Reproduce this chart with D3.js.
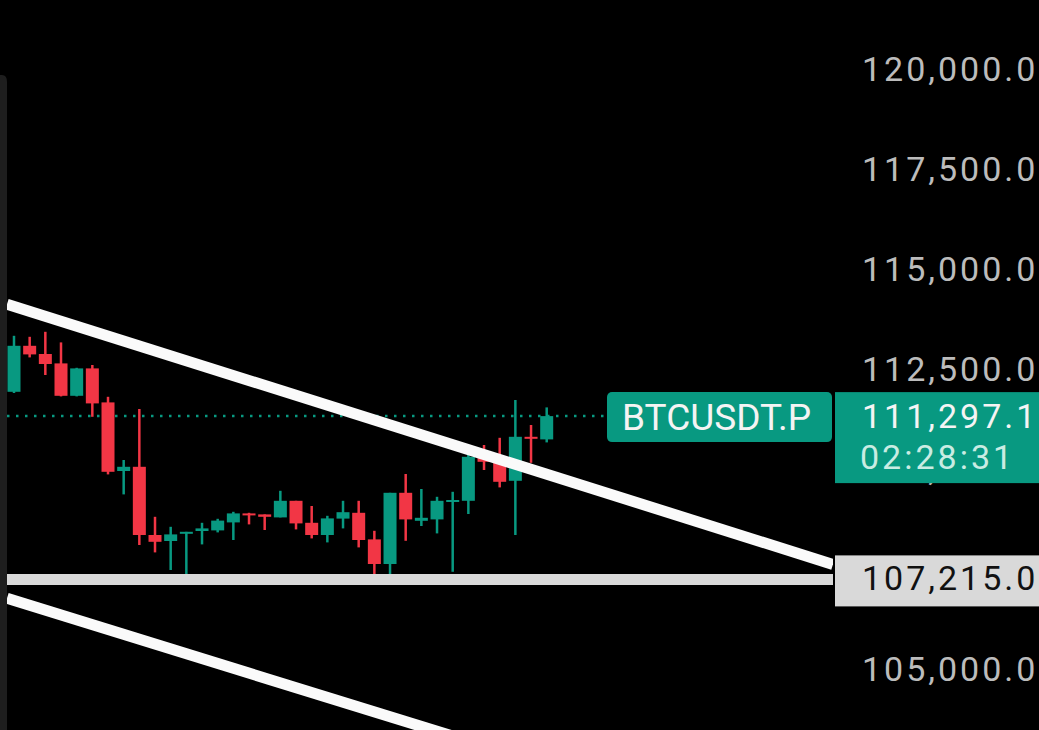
<!DOCTYPE html>
<html><head><meta charset="utf-8">
<script src="https://cdn.jsdelivr.net/npm/d3@7"></script>
<style>html,body{margin:0;padding:0;background:#000;overflow:hidden}svg{display:block}</style>
</head><body>
<script>
// ---- data ----
const opens  = [111905,113055,112850,112615,111805,112490,111640,109925,110030,108325,108175,108355,108425,108440,108640,108865,108840,108765,109180,108630,108325,108735,108880,108215,107600,109380,108680,108715,109150,109180,110280,110180,109680,110780,110715];
const highs  = [113305,113280,113405,113140,112505,112575,111780,110200,111475,108780,108530,108405,108630,108730,108905,108880,108840,109430,109180,109050,108805,109180,109180,108430,109380,109850,109475,109280,109405,110575,110575,110755,111700,111075,111515];
const lows   = [111875,112765,112325,111790,111790,111280,109840,109340,108075,107890,107450,107325,108090,108390,108200,108590,108450,108765,108465,108240,108140,108490,108015,107350,107215,108180,108550,108365,107405,108850,109950,109515,108325,110130,110640];
const closes = [113055,112840,112600,111805,112490,111615,109905,110030,108325,108155,108340,108405,108490,108685,108865,108815,108780,109180,108615,108325,108740,108895,108200,107600,109380,108715,108755,109180,109200,110280,110155,109655,110780,110755,111297.1];
const yTicks = [105000,107500,110000,112500,115000,117500,120000];
const lastPrice = 111297.1;
const supportPrice = 107215;
const symbol = "BTCUSDT.P";
const countdown = "02:28:31";
const upperTrend = [[-0.447,114095],[52.27,107590]];
const lowerTrend = [[-0.447,106743],[52.27,100360]];

// ---- setup ----
const W = 1039, H = 730;
const GREEN = "#089981", RED = "#f23645";
const FONT = "Roboto, sans-serif", FS = 34, LS = "3px";
const svg = d3.select("body").append("svg").attr("width", W).attr("height", H);
svg.append("rect").attr("width", W).attr("height", H).attr("fill", "#000");

const x = d3.scaleLinear().domain([0, 34]).range([14, 546.7]);
const y = d3.scaleLinear().domain([105000, 120000]).range([668, 68]);

// left panel edge
svg.append("path").attr("d", "M0,75 L2,75 Q7,75 7,82 L7,730 L0,730 Z").attr("fill", "#1e1e1e");

// axis labels
const axis = d3.axisRight(y).tickValues(yTicks).tickSize(0).tickPadding(0).tickFormat(d3.format(",.1f"));
const ag = svg.append("g").attr("transform", "translate(862,0)").call(axis);
ag.select(".domain").remove();
ag.selectAll("text").attr("fill", "#bcbcbc").attr("font-family", FONT)
  .attr("font-size", FS).attr("letter-spacing", LS).attr("dy", "0.36em");

// clip for chart area
svg.append("clipPath").attr("id", "clip").append("rect").attr("x", 7).attr("y", 0).attr("width", 826).attr("height", H);
const plot = svg.append("g").attr("clip-path", "url(#clip)");

// dotted last-price line
plot.append("line").attr("x1", 7).attr("x2", 607).attr("y1", y(lastPrice)).attr("y2", y(lastPrice))
  .attr("stroke", GREEN).attr("stroke-width", 2.5).attr("stroke-dasharray", "2.5,6.5");

// candles
const data = opens.map((o, i) => ({i, o, h: highs[i], l: lows[i], c: closes[i]}));
const bw = 13;
const cg = plot.append("g");
cg.selectAll("line.wick").data(data).join("line").attr("class", "wick")
  .attr("x1", d => x(d.i)).attr("x2", d => x(d.i)).attr("y1", d => y(d.h)).attr("y2", d => y(d.l))
  .attr("stroke", d => d.c >= d.o ? GREEN : RED).attr("stroke-width", 2.5);
cg.selectAll("rect.body").data(data).join("rect").attr("class", "body")
  .attr("x", d => x(d.i) - bw / 2).attr("width", bw)
  .attr("y", d => y(Math.max(d.o, d.c)))
  .attr("height", d => Math.max(2, Math.abs(y(d.o) - y(d.c))))
  .attr("fill", d => d.c >= d.o ? GREEN : RED);

// support line
plot.append("line").attr("x1", 7).attr("x2", 835).attr("y1", y(supportPrice)).attr("y2", y(supportPrice))
  .attr("stroke", "#d9d9d9").attr("stroke-width", 11);

// trend lines
const line = d3.line().x(d => x(d[0])).y(d => y(d[1]));
[upperTrend, lowerTrend].forEach(t => {
  plot.append("path").attr("d", line(t)).attr("stroke", "#fafafa").attr("stroke-width", 11).attr("fill", "none");
});

// symbol label
svg.append("rect").attr("x", 607).attr("y", y(lastPrice) - 24).attr("width", 225).attr("height", 50).attr("rx", 5).attr("fill", GREEN);
svg.append("text").attr("x", 622).attr("y", y(lastPrice) + 14).text(symbol)
  .attr("fill", "#f4f4f4").attr("font-family", FONT).attr("font-size", 37);

// price label
svg.append("rect").attr("x", 835).attr("y", y(lastPrice) - 24).attr("width", 204).attr("height", 91).attr("fill", GREEN);
svg.append("text").attr("x", 862).attr("y", y(lastPrice) + 12).text(d3.format(",.1f")(lastPrice))
  .attr("fill", "#f4f4f4").attr("font-family", FONT).attr("font-size", FS).attr("letter-spacing", LS);
svg.append("text").attr("x", 860).attr("y", y(lastPrice) + 53).text(countdown)
  .attr("fill", "#c9ece3").attr("font-family", FONT).attr("font-size", FS).attr("letter-spacing", LS);

// support label
svg.append("rect").attr("x", 835).attr("y", y(supportPrice) - 24).attr("width", 204).attr("height", 51).attr("fill", "#d9d9d9");
svg.append("text").attr("x", 862).attr("y", y(supportPrice) + 11).text(d3.format(",.1f")(supportPrice))
  .attr("fill", "#111").attr("font-family", FONT).attr("font-size", FS).attr("letter-spacing", LS);
</script>
</body></html>
